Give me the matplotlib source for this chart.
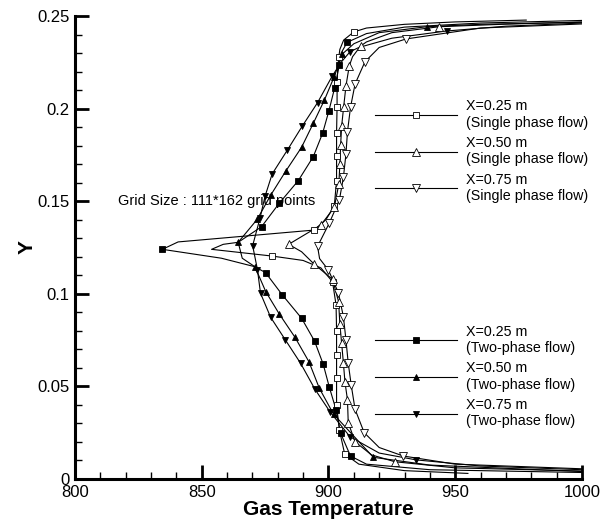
import numpy as np
import matplotlib.pyplot as plt
from matplotlib.lines import Line2D
from matplotlib.ticker import MultipleLocator

plt.rcParams['font.family'] = ['Liberation Sans', 'DejaVu Sans']

# X=0.25 m profiles are split at the centre dip: upper half / lower half
# single phase, X=0.25 m
s25_up_T = [978, 950, 930, 915, 910, 906, 904.5, 904.1, 903.6, 903.5, 903.4, 903.4, 903.3, 903.2, 903.2,
            903.2, 902.3, 899, 894.3, 840.7]
s25_up_Y = [0.2478, 0.2468, 0.2455, 0.2435, 0.2414, 0.2370, 0.2320, 0.2280, 0.2210, 0.2145, 0.2080, 0.2010,
            0.1940, 0.1870, 0.1744, 0.1611, 0.1474, 0.1400, 0.1344, 0.1280]
s25_up_mk = [4, 7, 9, 11, 13, 14, 15, 16, 18]
s25_lo_T = [853.9, 877.6, 890, 897, 901.6, 903, 903.2, 903.2, 903.2, 903.2, 904.3, 906.4, 912, 930, 955]
s25_lo_Y = [0.1240, 0.1204, 0.1180, 0.1140, 0.1065, 0.0940, 0.0801, 0.0670, 0.0544, 0.0400, 0.0265, 0.0135,
            0.0080, 0.0045, 0.0030]
s25_lo_mk = [1, 4, 5, 6, 7, 8, 9, 10, 11]

# two-phase, X=0.25 m
t25_up_T = [1000, 960, 930, 915, 907.4, 905, 904.3, 902.4, 900.2, 897.7, 894, 888.1, 880.6, 873.6, 864.4, 858.5]
t25_up_Y = [0.2476, 0.2462, 0.2440, 0.2405, 0.2358, 0.2300, 0.2235, 0.2110, 0.1989, 0.1867, 0.1740, 0.1611,
            0.1489, 0.1362, 0.1278, 0.1267]
t25_up_mk = [4, 6, 7, 8, 9, 10, 11, 12, 13]
t25_lo_T = [834.5, 857.8, 871, 875.2, 881.8, 889.4, 894.5, 897.9, 900.3, 903, 904.8, 908.7, 915, 940, 1000]
t25_lo_Y = [0.1240, 0.1192, 0.1146, 0.1114, 0.0994, 0.0868, 0.0745, 0.0621, 0.0498, 0.0373, 0.0247, 0.0124,
            0.0080, 0.0050, 0.0035]
t25_lo_mk = [0, 3, 4, 5, 6, 7, 8, 9, 10, 11]

# single phase, X=0.50 m
s50_T = [1000, 970, 943.6, 925, 915, 912.7, 909.5, 908.2, 906.9, 906, 905.2, 904.8, 904.5, 904.1, 902.3,
         897, 884.3, 889.4, 894.3, 901.6, 904, 904.5, 905.2, 905.9, 906.5, 907.5, 907.8, 910.5, 917, 926.2,
         950, 1000]
s50_Y = [0.2468, 0.2456, 0.2442, 0.2410, 0.2360, 0.2338, 0.2280, 0.2230, 0.2122, 0.2010, 0.1905, 0.1803,
         0.1699, 0.1593, 0.1467, 0.1371, 0.1267, 0.1227, 0.1161, 0.1078, 0.0957, 0.0837, 0.0733, 0.0625,
         0.0525, 0.0427, 0.0304, 0.0201, 0.0130, 0.0093, 0.0060, 0.0043]
s50_mk = [2, 5, 7, 8, 9, 10, 11, 12, 13, 14, 15, 16, 18, 19, 20, 21, 22, 23, 24, 25, 26, 27, 29]

# single phase, X=0.75 m
s75_T = [1000, 960, 930.6, 920, 914.4, 910.5, 908.7, 907.5, 906.9, 905.9, 904.3, 900.3, 895.7, 896.5, 900,
         903.9, 905.9, 906.9, 907.8, 909, 910.5, 914.1, 920, 929.5, 950, 1000]
s75_Y = [0.2457, 0.2435, 0.2376, 0.2330, 0.2253, 0.2133, 0.2007, 0.1875, 0.1755, 0.1629, 0.1506, 0.1381,
         0.1256, 0.1190, 0.1128, 0.1006, 0.0876, 0.0751, 0.0625, 0.0505, 0.0376, 0.0250, 0.0170, 0.0124,
         0.0080, 0.0055]
s75_mk = [2, 4, 5, 6, 7, 8, 9, 10, 11, 12, 14, 15, 16, 17, 18, 19, 20, 21, 23]

# two-phase, X=0.50 m
t50_T = [1000, 960, 938.7, 920, 910, 905.5, 902.2, 898.4, 894, 889.4, 883.1, 877.2, 871.9, 864.4, 866,
         871, 875.3, 880.6, 886.8, 892.3, 896.4, 902, 917.7, 940, 1000]
t50_Y = [0.2466, 0.2455, 0.2442, 0.2410, 0.2350, 0.2295, 0.2170, 0.2046, 0.1920, 0.1791, 0.1661, 0.1532,
         0.1402, 0.1278, 0.1192, 0.1146, 0.1011, 0.0891, 0.0765, 0.0633, 0.0490, 0.0350, 0.0117, 0.0075,
         0.0040]
t50_mk = [2, 5, 6, 7, 8, 9, 10, 11, 12, 13, 15, 16, 17, 18, 19, 20, 21, 22]

# two-phase, X=0.75 m
t75_T = [1000, 970, 946.6, 925, 912, 908.5, 905, 901.5, 895.7, 889.7, 883.8, 877.8, 875, 873, 870.1, 872,
         873.2, 877.2, 883, 889, 894.7, 900.6, 908.5, 920, 934.6, 960, 1000]
t75_Y = [0.2462, 0.2445, 0.2419, 0.2380, 0.2330, 0.2307, 0.2250, 0.2176, 0.2032, 0.1906, 0.1776, 0.1647,
         0.1527, 0.1408, 0.1260, 0.1130, 0.1003, 0.0873, 0.0751, 0.0625, 0.0484, 0.0363, 0.0228, 0.0140,
         0.0103, 0.0070, 0.0050]
t75_mk = [2, 5, 7, 8, 9, 10, 11, 12, 13, 14, 15, 16, 17, 18, 19, 20, 21, 22, 24]

fig = plt.figure(figsize=(6.04, 5.26), dpi=100)
ax = fig.add_axes([0.124, 0.0894, 0.8396, 0.8802])

lw = 0.8
open_sq = dict(marker='s', ms=5, mfc='white', mec='k', mew=0.6)
open_up = dict(marker='^', ms=5.5, mfc='white', mec='k', mew=0.6)
open_dn = dict(marker='v', ms=5.5, mfc='white', mec='k', mew=0.6)
full_sq = dict(marker='s', ms=4.5, mfc='k', mec='k', mew=0.6)
full_up = dict(marker='^', ms=4, mfc='k', mec='k', mew=0.6)
full_dn = dict(marker='v', ms=4, mfc='k', mec='k', mew=0.6)

# lines (the 0.25 m halves cross over at the dip, as in the original plot)
ax.plot(s25_up_T + t25_lo_T, s25_up_Y + t25_lo_Y, 'k-', lw=lw)
ax.plot(t25_up_T + s25_lo_T, t25_up_Y + s25_lo_Y, 'k-', lw=lw)
for T, Y in [(s50_T, s50_Y), (s75_T, s75_Y), (t50_T, t50_Y), (t75_T, t75_Y)]:
    ax.plot(T, Y, 'k-', lw=lw)

# markers
def marks(T, Y, mk, style):
    ax.plot(np.array(T)[mk], np.array(Y)[mk], ls='none', zorder=3, **style)

marks(s25_up_T, s25_up_Y, s25_up_mk, open_sq)
marks(s25_lo_T, s25_lo_Y, s25_lo_mk, open_sq)
marks(s50_T, s50_Y, s50_mk, open_up)
marks(s75_T, s75_Y, s75_mk, open_dn)
marks(t25_up_T, t25_up_Y, t25_up_mk, full_sq)
marks(t25_lo_T, t25_lo_Y, t25_lo_mk, full_sq)
marks(t50_T, t50_Y, t50_mk, full_up)
marks(t75_T, t75_Y, t75_mk, full_dn)

leg_kw = dict(frameon=False, fontsize=10.3, handlelength=5.7, handletextpad=0.63, labelspacing=0.45,
              borderpad=0, borderaxespad=0, loc='upper left', numpoints=1)
h_single = [Line2D([], [], color='k', lw=lw, **st) for st in (open_sq, open_up, open_dn)]
h_two = [Line2D([], [], color='k', lw=lw, **st) for st in (full_sq, full_up, full_dn)]
leg1 = ax.legend(h_single,
                 ['X=0.25 m\n(Single phase flow)', 'X=0.50 m\n(Single phase flow)', 'X=0.75 m\n(Single phase flow)'],
                 bbox_to_anchor=(0.592, 0.82), **leg_kw)
ax.add_artist(leg1)
leg2 = ax.legend(h_two,
                 ['X=0.25 m\n(Two-phase flow)', 'X=0.50 m\n(Two-phase flow)', 'X=0.75 m\n(Two-phase flow)'],
                 bbox_to_anchor=(0.592, 0.333), **leg_kw)

ax.text(817, 0.150, 'Grid Size : 111*162 grid points', fontsize=10.5, va='center', ha='left')

ax.set_xlim(800, 1000)
ax.set_ylim(0, 0.25)
ax.xaxis.set_major_locator(MultipleLocator(50))
ax.xaxis.set_minor_locator(MultipleLocator(10))
ax.yaxis.set_minor_locator(MultipleLocator(0.01))
ax.set_yticks([0, 0.05, 0.1, 0.15, 0.2, 0.25])
ax.set_yticklabels(['0', '0.05', '0.1', '0.15', '0.2', '0.25'])
ax.tick_params(which='major', direction='in', length=10, width=2, labelsize=12, pad=4)
ax.tick_params(which='minor', direction='in', length=5, width=1)
for s in ['top', 'right']:
    ax.spines[s].set_visible(False)
for s in ['left', 'bottom']:
    ax.spines[s].set_linewidth(2.2)

ax.set_xlabel('Gas Temperature', fontsize=15, fontweight='bold', labelpad=0)
ax.set_ylabel('Y', fontsize=15, fontweight='bold')
ax.yaxis.set_label_coords(-0.075, 0.5)

fig.savefig('out.png', dpi=100)
